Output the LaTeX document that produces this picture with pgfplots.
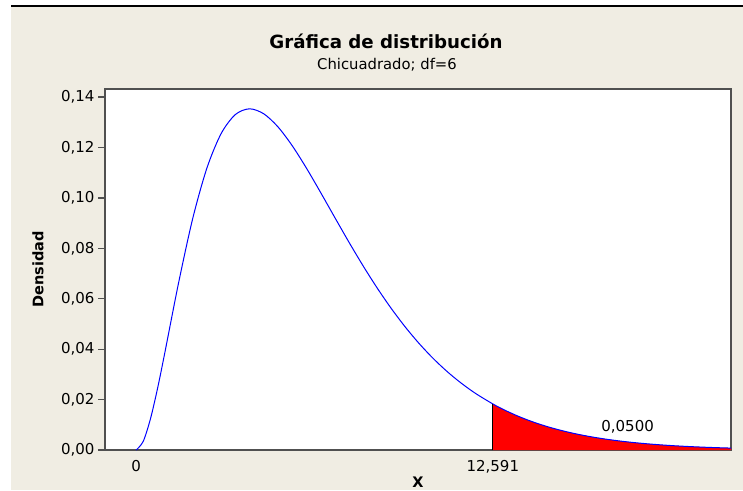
\documentclass[border=0pt]{standalone}
\usepackage{pgfplots}
\pgfplotsset{compat=1.18}
\usepackage{fontspec}
\setmainfont{DejaVu Sans}
\definecolor{bgbeige}{RGB}{240,237,227}
\definecolor{framegray}{RGB}{80,80,80}
\definecolor{curveblue}{RGB}{0,0,255}
\begin{document}
\begin{tikzpicture}[x=1pt,y=1pt]
\useasboundingbox (0,0) rectangle (743,490);
\fill[white] (0,0) rectangle (743,490);
\fill[bgbeige] (11,0) rectangle (743,483);
\draw[black, line width=2pt] (11,484) -- (743,484);
\node[font=\fontsize{18.2}{22}\selectfont\bfseries] at (386,449) {Gráfica de distribución};
\node[font=\fontsize{14.8}{18}\selectfont] at (387,425) {Chicuadrado; df=6};
\begin{axis}[
  at={(105pt,40pt)}, anchor=south west,
  scale only axis, width=626pt, height=361pt,
  xmin=-1.1, xmax=21, ymin=0, ymax=0.1432,
  axis background/.style={fill=white},
  axis line style={draw=framegray, line width=1.5pt},
  xtick={0,12.591}, xticklabels={0,{12,591}},
  x tick style={draw=none},
  ytick={0,0.02,0.04,0.06,0.08,0.10,0.12,0.14},
  y tick style={draw=framegray, line width=1.2pt},
  tick align=outside, major tick length=7pt,
  xtick pos=bottom, ytick pos=left,
  /pgf/number format/assume math mode=true,
  yticklabel style={/pgf/number format/.cd, use comma, fixed, fixed zerofill, precision=2},
  ticklabel style={font=\fontsize{15}{18}\selectfont},
  xlabel={X}, ylabel={Densidad},
  label style={font=\fontsize{14.5}{17}\selectfont\bfseries},
  xlabel style={at={(rel axis cs:0.5,0)}, anchor=center, yshift=-32pt},
  ylabel style={at={(rel axis cs:0,0.5)}, anchor=center, rotate=0, yshift=67pt},
  clip=true,
]
\addplot[fill=red, draw=none, smooth] table {
x y
12.591 0.018277
13 0.015880
13.5 0.013337
14 0.011170
14.5 0.009332
15 0.007778
15.5 0.006468
16 0.005367
16.5 0.004446
17 0.003675
17.5 0.003033
18 0.002499
18.5 0.002056
19 0.001689
19.5 0.001385
20 0.001135
20.5 0.000929
21 0.000759
} \closedcycle;
\addplot[curveblue, line width=1pt, smooth] table {
x y
0 0
0.25 0.003447
0.5 0.012169
0.75 0.024163
1 0.037908
1.5 0.066427
2 0.091970
2.5 0.111916
3 0.125511
3.5 0.133046
4 0.135335
4.5 0.133396
5 0.128258
5.5 0.120863
6 0.112021
6.5 0.102388
7 0.092479
7.5 0.082679
8 0.073263
8.5 0.064410
9 0.056239
9.5 0.048801
10 0.042112
10.5 0.036158
11 0.030906
11.5 0.026308
12 0.022309
12.591 0.018277
13 0.015880
13.5 0.013337
14 0.011170
14.5 0.009332
15 0.007778
15.5 0.006468
16 0.005367
16.5 0.004446
17 0.003675
17.5 0.003033
18 0.002499
18.5 0.002056
19 0.001689
19.5 0.001385
20 0.001135
20.5 0.000929
21 0.000759
};
\addplot[black, line width=1.2pt] coordinates {(12.591,0) (12.591,0.018277)};
\node[font=\fontsize{15}{18}\selectfont] at (axis cs:17.35,0.0091) {0,0500};
\end{axis}
\end{tikzpicture}
\end{document}
